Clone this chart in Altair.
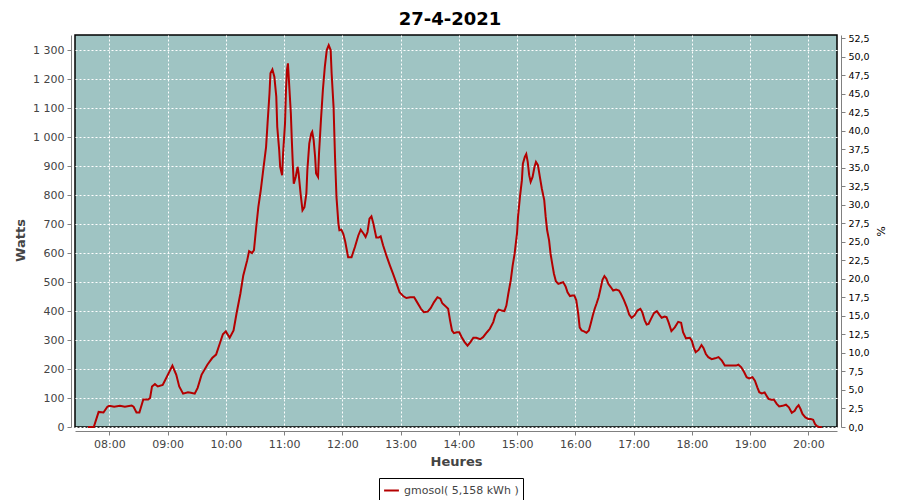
import altair as alt
import pandas as pd

title_text = "27-4-2021"
series_label = "gmosol( 5,158 kWh )"

times = [
    "07:38", "07:44", "07:49", "07:54", "07:58", "08:00", "08:05", "08:11", "08:16", "08:23",
    "08:25", "08:28", "08:31", "08:35", "08:40", "08:42", "08:44", "08:47", "08:50", "08:55",
    "08:58", "09:05", "09:09", "09:12", "09:16", "09:21", "09:24", "09:28", "09:31", "09:35",
    "09:41", "09:46", "09:50", "09:54", "09:57", "10:00", "10:04", "10:08", "10:11", "10:15",
    "10:18", "10:22", "10:24", "10:27", "10:29", "10:31", "10:33:30", "10:36", "10:38:30", "10:41:30",
    "10:43", "10:45", "10:46", "10:48", "10:50", "10:52", "10:53", "10:55", "10:56", "10:58",
    "10:59", "11:01", "11:02", "11:03", "11:04", "11:05", "11:07", "11:08", "11:09", "11:10",
    "11:12", "11:14", "11:15", "11:17", "11:19", "11:21", "11:23", "11:24", "11:26", "11:28",
    "11:29", "11:30:30", "11:32", "11:33", "11:35", "11:36", "11:38", "11:40", "11:42", "11:44",
    "11:46", "11:48", "11:49", "11:51", "11:52:30", "11:54", "11:56", "11:57", "11:59", "12:01",
    "12:03", "12:05", "12:06", "12:09:30", "12:13", "12:16:30", "12:19", "12:22", "12:24", "12:26",
    "12:28", "12:30", "12:32", "12:35", "12:37:30", "12:39:30", "12:42", "12:46", "12:49", "12:52:30",
    "12:56", "12:59", "13:03", "13:06", "13:10", "13:14", "13:17", "13:21", "13:24", "13:28",
    "13:31", "13:34:30", "13:38", "13:41", "13:43", "13:46", "13:49", "13:51", "13:53", "13:55",
    "13:58", "14:00:30", "14:03", "14:06", "14:09", "14:12", "14:15", "14:18", "14:22", "14:25",
    "14:29", "14:32", "14:35:30", "14:38", "14:41", "14:44", "14:47", "14:49", "14:51", "14:53:30",
    "14:55:30", "14:57:30", "15:00", "15:01", "15:03", "15:05", "15:06", "15:08", "15:09:30", "15:11",
    "15:12:30", "15:14", "15:16", "15:18", "15:19:30", "15:21:30", "15:23:30", "15:25:30", "15:28", "15:29:30",
    "15:31", "15:33", "15:34:30", "15:36:30", "15:38", "15:40", "15:42:30", "15:45", "15:47:30", "15:50",
    "15:52", "15:54:30", "15:57", "15:59", "16:01", "16:03", "16:04:30", "16:06:30", "16:09", "16:11:30",
    "16:14", "16:16", "16:18", "16:20", "16:22", "16:24", "16:26", "16:28", "16:30", "16:32",
    "16:34", "16:36:30", "16:39", "16:42", "16:45", "16:47", "16:50", "16:53", "16:55:30", "16:58",
    "17:01", "17:04", "17:07", "17:09", "17:11:30", "17:13:30", "17:15:30", "17:18", "17:21", "17:24",
    "17:26:30", "17:29", "17:32", "17:34", "17:36", "17:39", "17:42:30", "17:46", "17:49", "17:51",
    "17:54", "17:58", "18:00", "18:02", "18:04", "18:07", "18:10", "18:12", "18:14:30", "18:17",
    "18:20:30", "18:24", "18:27:30", "18:31", "18:34", "18:37:30", "18:41", "18:45:30", "18:48", "18:51",
    "18:54", "18:56:30", "18:59", "19:02:30", "19:05", "19:07:30", "19:09:30", "19:12", "19:15", "19:17",
    "19:19", "19:22", "19:24:30", "19:27:30", "19:30", "19:33:30", "19:37", "19:40", "19:43", "19:46",
    "19:48", "19:50", "19:52", "19:54", "19:57", "20:00", "20:02:30", "20:05", "20:07", "20:09",
    "20:11", "20:14",
]

watts = [
    0, 0, 52, 50, 70, 73, 70, 73, 70, 74,
    70, 50, 50, 95, 95, 100, 140, 148, 140, 145,
    165, 212, 180, 140, 115, 120, 118, 115, 135, 180,
    215, 238, 250, 290, 320, 330, 308, 333, 391, 460,
    523, 575, 607, 600, 610, 679, 759, 817, 886, 967,
    1048, 1151, 1221, 1234, 1209, 1140, 1036, 955, 898, 869,
    944, 1048, 1163, 1232, 1255, 1197, 1082, 990, 909, 840,
    863, 898, 875, 806, 748, 759, 806, 886, 979, 1013,
    1019, 990, 932, 875, 863, 944, 1059, 1163, 1243, 1301,
    1318, 1301, 1221, 1105, 932, 794, 702, 679, 681, 667,
    640, 604, 586, 586, 621, 661, 681, 667, 656, 673,
    719, 727, 702, 654, 654, 658, 627, 586, 558, 527,
    494, 465, 451, 445, 448, 448, 431, 408, 396, 398,
    410, 431, 448, 443, 427, 418, 408, 368, 333, 324,
    327, 327, 310, 293, 281, 293, 308, 308, 303, 310,
    327, 339, 362, 391, 405, 402, 400, 419, 460, 506,
    558, 598, 670, 725, 794, 852, 909, 932, 942, 915,
    869, 846, 863, 898, 915, 904, 863, 823, 783, 725,
    679, 644, 598, 558, 529, 503, 494, 497, 500, 485,
    465, 452, 454, 454, 437, 391, 344, 333, 330, 325,
    333, 358, 385, 408, 427, 448, 477, 508, 521, 512,
    494, 483, 471, 474, 471, 460, 439, 414, 388, 377,
    385, 402, 408, 396, 368, 354, 356, 373, 393, 400,
    388, 377, 381, 379, 362, 331, 344, 363, 360, 327,
    306, 308, 298, 275, 258, 266, 283, 273, 252, 241,
    234, 237, 241, 229, 212, 212, 212, 212, 215, 206,
    189, 172, 168, 172, 160, 137, 120, 116, 119, 108,
    97, 94, 95, 80, 71, 73, 77, 68, 49, 56,
    68, 75, 62, 45, 33, 28, 28, 25, 10, 3,
    0, 0,
]

hour_ticks = [8, 9, 10, 11, 12, 13, 14, 15, 16, 17, 18, 19, 20]
watt_ticks = [0, 100, 200, 300, 400, 500, 600, 700, 800, 900, 1000, 1100, 1200, 1300]
pct_ticks = [0.0, 2.5, 5.0, 7.5, 10.0, 12.5, 15.0, 17.5, 20.0, 22.5, 25.0, 27.5,
             30.0, 32.5, 35.0, 37.5, 40.0, 42.5, 45.0, 47.5, 50.0, 52.5]
watts_per_pct = 25.56


def norm(t):
    return t if len(t) == 8 else t + ":00"


df = pd.DataFrame({
    "time": pd.to_datetime(["2021-04-27 " + norm(t) for t in times]),
    "W": watts,
    "serie": series_label,
})

FONT = "DejaVu Sans"


def dt(h, m=0, s=0):
    return alt.DateTime(year=2021, month=4, date=27, hours=h, minutes=m, seconds=s)


x_scale = alt.Scale(domain=[dt(7, 24, 40), dt(20, 29, 34)])
x_axis = alt.Axis(
    title="Heures",
    format="%H:%M",
    values=[dt(h) for h in hour_ticks],
    offset=4,
    grid=True,
    titlePadding=6,
)

line = alt.Chart(df).mark_line(strokeWidth=2, color="#b40000").encode(
    x=alt.X("time:T", scale=x_scale, axis=x_axis),
    y=alt.Y(
        "W:Q",
        scale=alt.Scale(domain=[0, 1352.9], nice=False, zero=True),
        axis=alt.Axis(
            title="Watts",
            values=watt_ticks,
            labelExpr="replace(format(datum.value, ',d'), ',', ' ')",
            offset=4,
            grid=True,
            titlePadding=5,
            titleY=205,
        ),
    ),
    color=alt.Color(
        "serie:N",
        scale=alt.Scale(range=["#b40000"]),
        legend=alt.Legend(
            title=None,
            orient="none",
            legendX=304,
            legendY=443,
            direction="horizontal",
            symbolType="stroke",
            symbolStrokeWidth=2,
            symbolSize=220,
            labelFont=FONT,
            labelFontSize=11,
            labelColor="#444444",
            strokeColor="#000000",
            padding=4,
        ),
    ),
)

pct = alt.Chart(df).transform_calculate(
    pct=f"datum.W / {watts_per_pct}"
).mark_line(opacity=0).encode(
    x=alt.X("time:T", scale=x_scale, axis=x_axis),
    y=alt.Y(
        "pct:Q",
        scale=alt.Scale(domain=[0, 52.94], nice=False, zero=True),
        axis=alt.Axis(
            title="%",
            orient="right",
            values=pct_ticks,
            labelExpr="replace(format(datum.value, '.1f'), '.', ',')",
            offset=4,
            grid=False,
            labelFontSize=9.5,
            labelColor="#000000",
            titleFontWeight="normal",
            titleFontSize=11,
            titleColor="#000000",
            titlePadding=5,
        ),
    ),
)

chart = alt.layer(line, pct).resolve_scale(y="independent").properties(
    width=762,
    height=392,
    title=alt.TitleParams(
        text=title_text, font=FONT, fontSize=18, fontWeight="bold", color="#000000",
        offset=3, dx=-6, dy=-1
    ),
    autosize=alt.AutoSizeParams(type="none"),
    padding={"left": 67, "top": 27, "right": 55, "bottom": 73},
).configure_view(
    fill="#9fc4c3", stroke="#000000", strokeWidth=1.5
).configure_axis(
    domainColor="#808080",
    tickColor="#808080",
    tickSize=4,
    labelColor="#444444",
    labelFont=FONT,
    labelFontSize=11,
    labelPadding=3,
    titleFont=FONT,
    titleFontSize=13,
    titleFontWeight="bold",
    titleColor="#444444",
    gridColor="#ffffff",
    gridDash=[2, 2],
    gridOpacity=1,
    gridWidth=1,
)

chart.save("out.html", embed_options={"renderer": "svg", "actions": False})
